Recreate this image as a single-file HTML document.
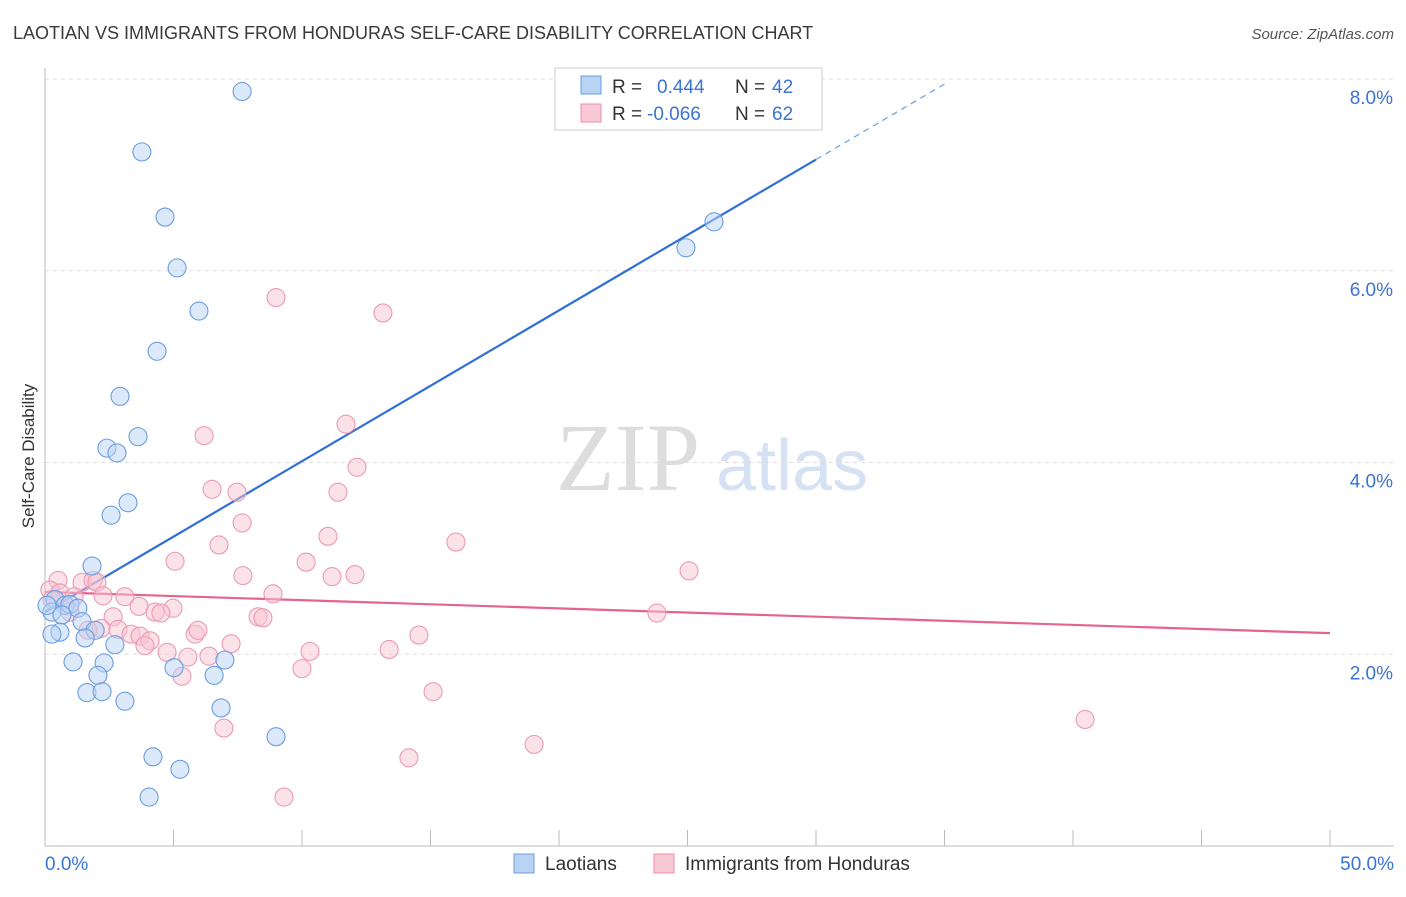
<!DOCTYPE html>
<html><head><meta charset="utf-8"><style>
body{margin:0;background:#fff;font-family:"Liberation Sans",sans-serif}
</style></head><body>
<svg id="chart" width="1406" height="892" xmlns="http://www.w3.org/2000/svg">
<text x="13" y="39" font-size="18" fill="#3a3a3a">LAOTIAN VS IMMIGRANTS FROM HONDURAS SELF-CARE DISABILITY CORRELATION CHART</text>
<text x="1394" y="39" font-size="15" fill="#555" text-anchor="end" font-style="italic">Source: ZipAtlas.com</text>
<text x="700" y="490" font-size="96" fill="#ddd" text-anchor="end" font-family="Liberation Serif">ZIP</text>
<text x="716" y="490" font-size="72" fill="#d6e2f3">atlas</text>
<text transform="translate(34,456) rotate(-90)" font-size="17" fill="#333" text-anchor="middle">Self-Care Disability</text>
<g id="grid"></g><g id="axes"></g><g id="lines"></g><g id="pts"></g>
<g>
<rect x="555" y="68" width="267" height="62" fill="#fff" stroke="#ccc"/>
<rect x="581" y="76" width="20" height="18" fill="#b9d3f5" stroke="#6a9de0"/>
<rect x="581" y="104" width="20" height="18" fill="#f9c8d6" stroke="#ec90ab"/>
<text x="612" y="93" font-size="19" fill="#333">R =</text>
<text x="657" y="93" font-size="19" fill="#3a74d4">0.444</text>
<text x="735" y="93" font-size="19" fill="#333">N =</text>
<text x="772" y="93" font-size="19" fill="#3a74d4">42</text>
<text x="612" y="120" font-size="19" fill="#333">R =</text>
<text x="647" y="120" font-size="19" fill="#3a74d4">-0.066</text>
<text x="735" y="120" font-size="19" fill="#333">N =</text>
<text x="772" y="120" font-size="19" fill="#3a74d4">62</text>
</g>
<g>
<rect x="514" y="854" width="20" height="19" fill="#b9d3f5" stroke="#6a9de0"/>
<text x="545" y="870" font-size="19" fill="#333">Laotians</text>
<rect x="654" y="854" width="20" height="19" fill="#f9c8d6" stroke="#ec90ab"/>
<text x="685" y="870" font-size="19" fill="#333">Immigrants from Honduras</text>
</g>
</svg>
<script>
const bluePx=[[242,91],[142,152],[165,217],[177,268],[199,311],[157,351],[120,396],[138,437],[107,448],[117,453],[128,503],[111,515],[92,566],[55,600],[65,605],[70,604],[78,608],[52,612],[62,615],[82,622],[95,630],[60,632],[52,634],[85,638],[115,645],[73,662],[104,663],[98,675],[174,668],[214,675],[225,660],[87,693],[102,692],[125,701],[221,708],[276,737],[153,757],[180,769],[149,797],[714,222],[686,248],[47,605]];
const pinkPx=[[276,298],[383,313],[346,424],[204,436],[357,467],[212,489],[237,492],[338,492],[242,523],[328,536],[219,545],[456,542],[175,561],[306,562],[243,576],[332,577],[355,575],[689,571],[58,580],[82,582],[93,580],[97,582],[50,590],[60,593],[74,597],[103,596],[125,597],[273,594],[139,606],[173,608],[155,612],[161,613],[113,617],[258,617],[263,618],[101,628],[118,629],[131,634],[140,636],[195,634],[198,630],[419,635],[150,641],[145,646],[231,644],[167,652],[310,651],[188,657],[209,656],[389,649],[302,669],[182,676],[433,692],[224,728],[534,744],[409,758],[284,797],[1085,719],[657,613],[52,600],[88,630],[70,612]];
const laotianX=bluePx.map(p=>+((p[0]-45)/1285*50).toFixed(2));
const laotianY=bluePx.map(p=>+((846-p[1])/95.875).toFixed(2));
const hondurasX=pinkPx.map(p=>+((p[0]-45)/1285*50).toFixed(2));
const hondurasY=pinkPx.map(p=>+((846-p[1])/95.875).toFixed(2));
const yTicks=[2,4,6,8];
const yTickLabels=["2.0%","4.0%","6.0%","8.0%"];
const blueTrend=[[0,2.44],[30,7.16]];
const pinkTrend=[[0,2.65],[50,2.22]];
const NS="http://www.w3.org/2000/svg";
const X=v=>45+v/50*1285, Y=v=>846-v*95.875;
function mk(t,a,p){const e=document.createElementNS(NS,t);for(const k in a)e.setAttribute(k,a[k]);p.appendChild(e);return e;}
const grid=document.getElementById('grid'),axes=document.getElementById('axes'),lines=document.getElementById('lines'),pts=document.getElementById('pts');
yTicks.forEach((t,i)=>{
 const l=mk('line',{x1:45,x2:1394,y1:Y(t),y2:Y(t),stroke:'#ddd','stroke-dasharray':'4,4'},grid);
 
 
 const tx=mk('text',{x:1393,y:Y(t)+25,'font-size':19,fill:'#3a74d4','text-anchor':'end'},axes);
 tx.textContent=yTickLabels[i];
 
 
});
mk('line',{x1:45,x2:45,y1:68,y2:846,stroke:'#bbb'},axes);
mk('line',{x1:45,x2:1394,y1:846,y2:846,stroke:'#bbb'},axes);
for(let i=0;i<=10;i++){mk('line',{x1:X(i*5),x2:X(i*5),y1:830,y2:846,stroke:'#bbb'},axes);}
const x0=mk('text',{x:45,y:870,'font-size':19,fill:'#3a74d4'},axes);x0.textContent='0.0%';


const x1=mk('text',{x:1394,y:870,'font-size':19,fill:'#3a74d4','text-anchor':'end'},axes);x1.textContent='50.0%';


function draw(xs,ys,fill,stroke,name){xs.forEach((x,i)=>{const c=mk('circle',{cx:X(x),cy:Y(ys[i]),r:9,fill:fill,'fill-opacity':0.5,stroke:stroke,'stroke-width':1.1},pts);
 
 });}
draw(hondurasX,hondurasY,'#f8c3d2','#eb9ab2','honduras-point');
draw(laotianX,laotianY,'#b9d3f5','#6a9de0','laotian-point');
const bl=mk('line',{x1:X(blueTrend[0][0]),y1:Y(blueTrend[0][1]),x2:X(blueTrend[1][0]),y2:Y(blueTrend[1][1]),stroke:'#2f6fd6','stroke-width':2.2},lines);


const slope=(blueTrend[1][1]-blueTrend[0][1])/(blueTrend[1][0]-blueTrend[0][0]);
const bd=mk('line',{x1:X(blueTrend[1][0]),y1:Y(blueTrend[1][1]),x2:X(35.1),y2:Y(blueTrend[0][1]+slope*35.1),stroke:'#6a9de0','stroke-width':1.2,'stroke-dasharray':'6,5'},lines);


const pl=mk('line',{x1:X(pinkTrend[0][0]),y1:Y(pinkTrend[0][1]),x2:X(pinkTrend[1][0]),y2:Y(pinkTrend[1][1]),stroke:'#e5648e','stroke-width':2.2},lines);


</script>
</body></html>
